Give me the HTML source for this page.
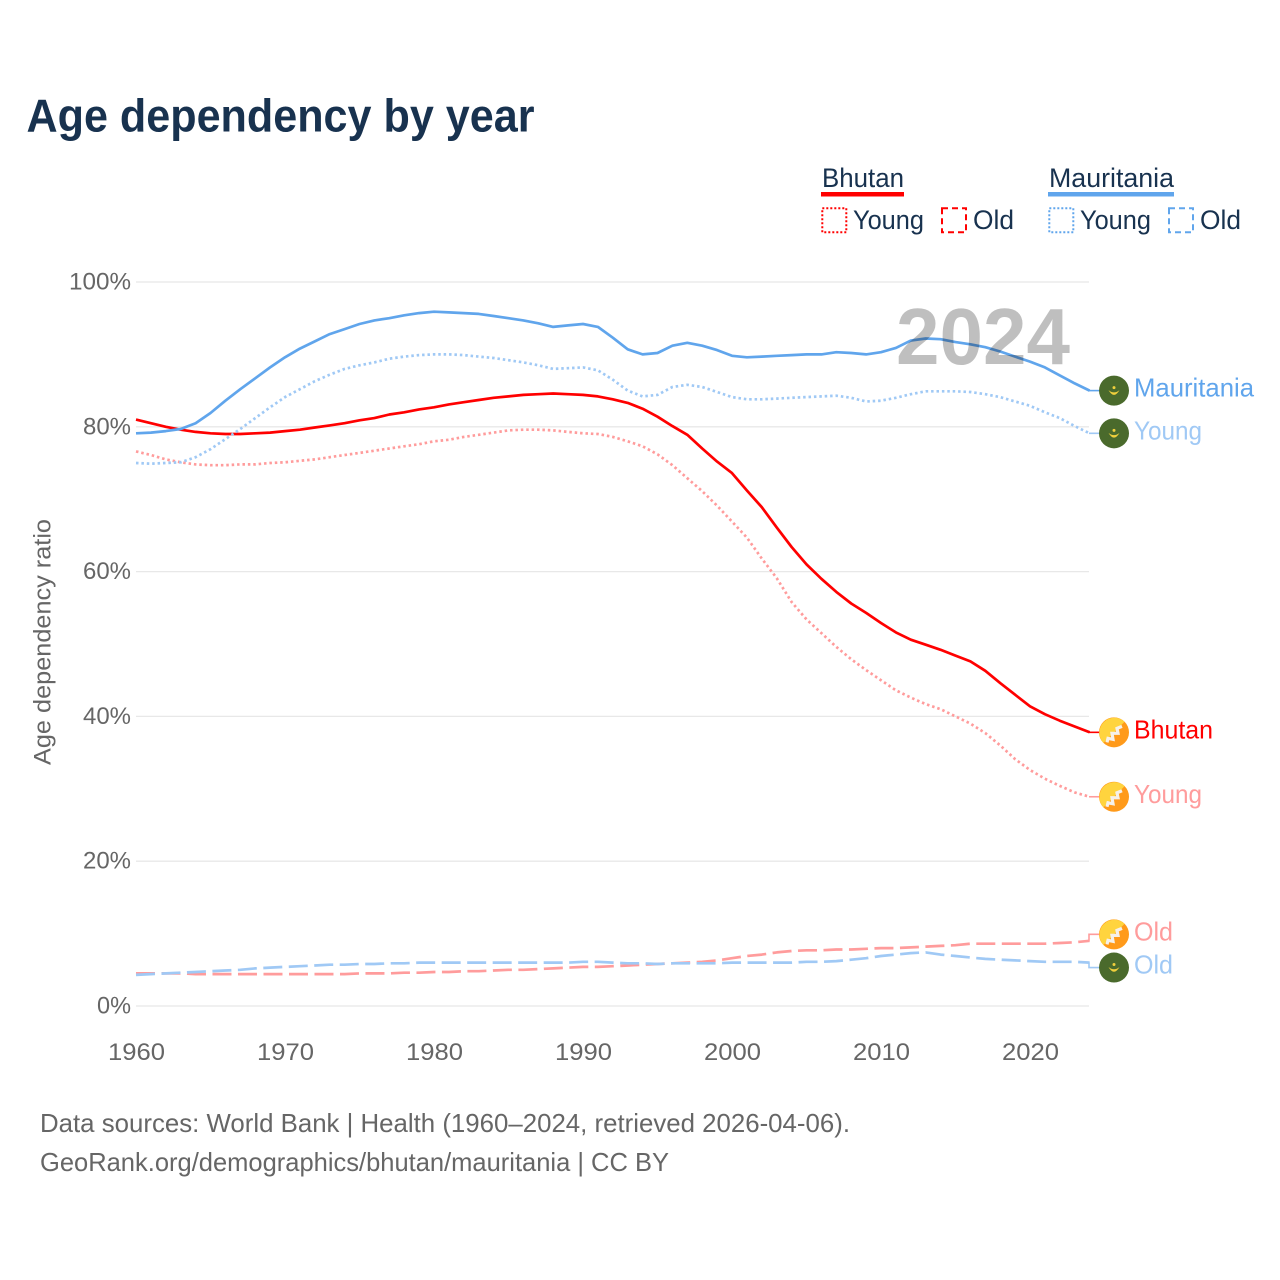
<!DOCTYPE html>
<html lang="en">
<head>
<meta charset="utf-8">
<title>Age dependency by year</title>
<style>
html,body{margin:0;padding:0;background:#fff}
svg{display:block}
text{font-family:"Liberation Sans",sans-serif}
</style>
</head>
<body>
<svg id="chart" xmlns="http://www.w3.org/2000/svg" width="1280" height="1280" viewBox="0 0 1280 1280">
  <rect width="1280" height="1280" fill="#fff"/>
  <text x="26.5" y="131.5" font-size="46" font-weight="700" fill="#18324f" textLength="508" lengthAdjust="spacingAndGlyphs">Age dependency by year</text>

  <g font-size="27" fill="#18324f">
    <text x="822" y="187" textLength="82" lengthAdjust="spacingAndGlyphs">Bhutan</text>
    <rect x="821" y="192" width="83" height="4.5" fill="#ff0000"/>
    <rect x="822.3" y="208.3" width="24" height="24" fill="none" stroke="#ff0000" stroke-width="2" stroke-dasharray="2 2"/>
    <text x="853" y="229" textLength="71" lengthAdjust="spacingAndGlyphs">Young</text>
    <rect x="942" y="208.3" width="24" height="24" fill="none" stroke="#ff0000" stroke-width="2" stroke-dasharray="6 4"/>
    <text x="973" y="229" textLength="41" lengthAdjust="spacingAndGlyphs">Old</text>
    <text x="1049" y="187" textLength="125" lengthAdjust="spacingAndGlyphs">Mauritania</text>
    <rect x="1048" y="192" width="126" height="4.5" fill="#60a5ec"/>
    <rect x="1049.3" y="208.3" width="24" height="24" fill="none" stroke="#60a5ec" stroke-width="2" stroke-dasharray="2 2"/>
    <text x="1080" y="229" textLength="71" lengthAdjust="spacingAndGlyphs">Young</text>
    <rect x="1169" y="208.3" width="24" height="24" fill="none" stroke="#60a5ec" stroke-width="2" stroke-dasharray="6 4"/>
    <text x="1200" y="229" textLength="41" lengthAdjust="spacingAndGlyphs">Old</text>
  </g>

  <g id="grid"></g>
  <g id="yticks"></g>
  <g id="xticks"></g>
  <text transform="translate(50.5,765) rotate(-90)" font-size="24" fill="#666" textLength="246" lengthAdjust="spacingAndGlyphs">Age dependency ratio</text>
  <g id="series"></g>
  <text x="896" y="364" font-size="80" font-weight="700" fill="#000" fill-opacity="0.25" textLength="174" lengthAdjust="spacingAndGlyphs">2024</text>
  <g id="labels"></g>

  <text x="40" y="1132" font-size="26" fill="#666" textLength="810" lengthAdjust="spacingAndGlyphs">Data sources: World Bank | Health (1960–2024, retrieved 2026-04-06).</text>
  <text x="40" y="1171" font-size="26" fill="#666" textLength="629" lengthAdjust="spacingAndGlyphs">GeoRank.org/demographics/bhutan/mauritania | CC BY</text>
</svg>

<script>
const years = [1960,1961,1962,1963,1964,1965,1966,1967,1968,1969,1970,1971,1972,1973,1974,1975,1976,1977,1978,1979,1980,1981,1982,1983,1984,1985,1986,1987,1988,1989,1990,1991,1992,1993,1994,1995,1996,1997,1998,1999,2000,2001,2002,2003,2004,2005,2006,2007,2008,2009,2010,2011,2012,2013,2014,2015,2016,2017,2018,2019,2020,2021,2022,2023,2024];
const xTickYears = [1960,1970,1980,1990,2000,2010,2020];
const yTickValues = [0,20,40,60,80,100];

const bhutanTotal = [81.0,80.5,80.0,79.6,79.3,79.1,79.0,79.0,79.1,79.2,79.4,79.6,79.9,80.2,80.5,80.9,81.2,81.7,82.0,82.4,82.7,83.1,83.4,83.7,84.0,84.2,84.4,84.5,84.6,84.5,84.4,84.2,83.8,83.3,82.5,81.4,80.1,78.9,77.0,75.2,73.6,71.2,68.9,66.1,63.4,61.0,59.0,57.2,55.6,54.3,52.9,51.6,50.6,49.9,49.2,48.4,47.6,46.3,44.6,43.0,41.4,40.3,39.4,38.6,37.8];
const bhutanYoung = [76.6,76.1,75.5,75.1,74.8,74.7,74.7,74.8,74.8,75.0,75.1,75.3,75.5,75.8,76.1,76.4,76.7,77.0,77.3,77.6,78.0,78.2,78.6,78.9,79.2,79.5,79.6,79.6,79.5,79.3,79.1,79.0,78.6,78.0,77.3,76.2,74.7,72.9,71.1,69.1,66.9,64.7,61.8,59.1,55.8,53.4,51.5,49.6,47.9,46.4,45.0,43.6,42.6,41.7,41.0,40.0,39.0,37.7,36.0,34.1,32.6,31.4,30.4,29.5,28.9];
const bhutanOld = [4.5,4.5,4.5,4.5,4.4,4.4,4.4,4.4,4.4,4.4,4.4,4.4,4.4,4.4,4.4,4.5,4.5,4.5,4.6,4.6,4.7,4.7,4.8,4.8,4.9,5.0,5.0,5.1,5.2,5.3,5.4,5.4,5.5,5.6,5.7,5.8,5.9,6.0,6.1,6.3,6.6,6.9,7.1,7.4,7.6,7.7,7.7,7.8,7.8,7.9,8.0,8.0,8.1,8.2,8.3,8.4,8.6,8.6,8.6,8.6,8.6,8.6,8.7,8.8,9.0];
const mauritaniaTotal = [79.1,79.2,79.4,79.7,80.5,81.9,83.6,85.2,86.7,88.2,89.6,90.8,91.8,92.8,93.5,94.2,94.7,95.0,95.4,95.7,95.9,95.8,95.7,95.6,95.3,95.0,94.7,94.3,93.8,94.0,94.2,93.8,92.3,90.7,90.0,90.2,91.2,91.6,91.2,90.6,89.8,89.6,89.7,89.8,89.9,90.0,90.0,90.3,90.2,90.0,90.3,90.9,91.9,92.2,92.1,91.7,91.4,91.0,90.4,89.7,89.0,88.2,87.1,86.0,85.0];
const mauritaniaYoung = [75.0,74.9,75.0,75.1,75.8,76.9,78.3,79.7,81.2,82.7,84.1,85.2,86.3,87.2,88.0,88.5,88.9,89.4,89.7,89.9,90.0,90.0,89.9,89.7,89.5,89.2,88.9,88.5,88.0,88.1,88.2,87.8,86.5,85.0,84.2,84.4,85.5,85.8,85.5,84.8,84.1,83.8,83.8,83.9,84.0,84.1,84.2,84.3,84.0,83.5,83.6,84.0,84.5,84.9,84.9,84.9,84.8,84.5,84.1,83.5,82.9,82.0,81.2,80.1,79.1];
const mauritaniaOld = [4.3,4.4,4.5,4.6,4.7,4.8,4.9,5.0,5.2,5.3,5.4,5.5,5.6,5.7,5.7,5.8,5.8,5.9,5.9,6.0,6.0,6.0,6.0,6.0,6.0,6.0,6.0,6.0,6.0,6.0,6.1,6.1,6.0,5.9,5.9,5.8,5.9,5.9,5.9,5.9,6.0,6.0,6.0,6.0,6.0,6.1,6.1,6.2,6.4,6.6,6.9,7.1,7.3,7.4,7.1,6.9,6.7,6.5,6.4,6.3,6.2,6.1,6.1,6.1,6.0];

const SVGNS = 'http://www.w3.org/2000/svg';
const xScale = function (year) { return 136 + (year - 1960) * 14.9; };
const yScale = function (value) { return 1006 - value * 7.24; };

function make(tag, attrs, parent) {
  const el = document.createElementNS(SVGNS, tag);
  for (const key in attrs) { el.setAttribute(key, attrs[key]); }
  parent.appendChild(el);
  return el;
}

const gridGroup = document.getElementById('grid');
const yTickGroup = document.getElementById('yticks');
yTickValues.forEach(function (value) {
  const line = make('line', {x1: 136, x2: 1089, y1: yScale(value), y2: yScale(value), stroke: '#e8e8e8', 'stroke-width': 1.3}, gridGroup);
  
  
  const label = value + '%';
  const tick = make('text', {x: 131, y: yScale(value) + 7.5, 'text-anchor': 'end', 'font-size': 24, fill: '#666', textLength: (label.length - 1) * 14 + 20, lengthAdjust: 'spacingAndGlyphs'}, yTickGroup);
  tick.textContent = label;
  
  
});

const xTickGroup = document.getElementById('xticks');
xTickYears.forEach(function (year) {
  const tick = make('text', {x: xScale(year) + 0.5, y: 1060, 'text-anchor': 'middle', 'font-size': 24, fill: '#666', textLength: 57, lengthAdjust: 'spacingAndGlyphs'}, xTickGroup);
  tick.textContent = String(year);
  
  
});

const RED = '#ff0000', BLUE = '#60a5ec', LRED = '#ff9c9c', LBLUE = '#a0c9f5';
const DOT = '2.5 2.9', DASH = '19 6.5';

function drawLine(values, color, dash, width, key) {
  const group = document.getElementById('series');
  const d = values.map(function (v, i) {
    return (i ? 'L' : 'M') + xScale(years[i]).toFixed(1) + ' ' + yScale(v).toFixed(1);
  }).join('');
  const attrs = {d: d, fill: 'none', stroke: color, 'stroke-width': width, 'stroke-linejoin': 'round'};
  if (dash) { attrs['stroke-dasharray'] = dash; }
  const path = make('path', attrs, group);
  
  
}

drawLine(bhutanOld, LRED, DASH, 2.7, 'bhutan-old');
drawLine(bhutanYoung, LRED, DOT, 2.7, 'bhutan-young');
drawLine(bhutanTotal, RED, null, 2.7, 'bhutan-total');
drawLine(mauritaniaOld, LBLUE, DASH, 2.7, 'mauritania-old');
drawLine(mauritaniaYoung, LBLUE, DOT, 2.7, 'mauritania-young');
drawLine(mauritaniaTotal, BLUE, null, 2.7, 'mauritania-total');

function drawFlag(country, cy, parent) {
  const g = make('g', {transform: 'translate(1114,' + cy + ')'}, parent);
  
  
  if (country === 'bhutan') {
    make('circle', {r: 15, fill: '#ff9a1a'}, g);
    make('path', {d: 'M-10.6,10.6A15,15 0 0 1 10.6,-10.6Z', fill: '#ffd43e'}, g);
    make('path', {d: 'M-7,10L-6,6L-1,7L-2,1L4,1L3,-4L8,-6', fill: 'none', stroke: '#f6f1ea', 'stroke-width': 3.2}, g);
  } else {
    make('circle', {r: 15, fill: '#4a6a2c'}, g);
    make('path', {d: 'M-5.5,-0.5Q0,9 5.5,-0.5Q0,4 -5.5,-0.5Z', fill: '#f0cf3c'}, g);
    make('circle', {cx: 0, cy: -3, r: 1.5, fill: '#f0cf3c'}, g);
  }
}

function drawEndLabel(values, nudge, country, text, textWidth, color, key) {
  const group = document.getElementById('labels');
  const endX = xScale(years[years.length - 1]) - 0.6;
  const endY = yScale(values[values.length - 1]);
  const labelY = endY + nudge;
  const connector = make('path', {d: 'M' + endX + ' ' + endY + 'V' + labelY + 'H1100', fill: 'none', stroke: color, 'stroke-width': 1.6}, group);
  
  
  drawFlag(country, labelY, group);
  const label = make('text', {x: 1134, y: labelY + 6, 'font-size': 26, fill: color, textLength: textWidth, lengthAdjust: 'spacingAndGlyphs'}, group);
  label.textContent = text;
  
  
}

drawEndLabel(mauritaniaTotal, 0, 'mauritania', 'Mauritania', 120, BLUE, 'mauritania-total');
drawEndLabel(mauritaniaYoung, 0, 'mauritania', 'Young', 68, LBLUE, 'mauritania-young');
drawEndLabel(bhutanTotal, 0, 'bhutan', 'Bhutan', 79, RED, 'bhutan-total');
drawEndLabel(bhutanYoung, 0, 'bhutan', 'Young', 68, LRED, 'bhutan-young');
drawEndLabel(bhutanOld, -6.5, 'bhutan', 'Old', 39, LRED, 'bhutan-old');
drawEndLabel(mauritaniaOld, 5, 'mauritania', 'Old', 39, LBLUE, 'mauritania-old');
</script>
</body>
</html>
